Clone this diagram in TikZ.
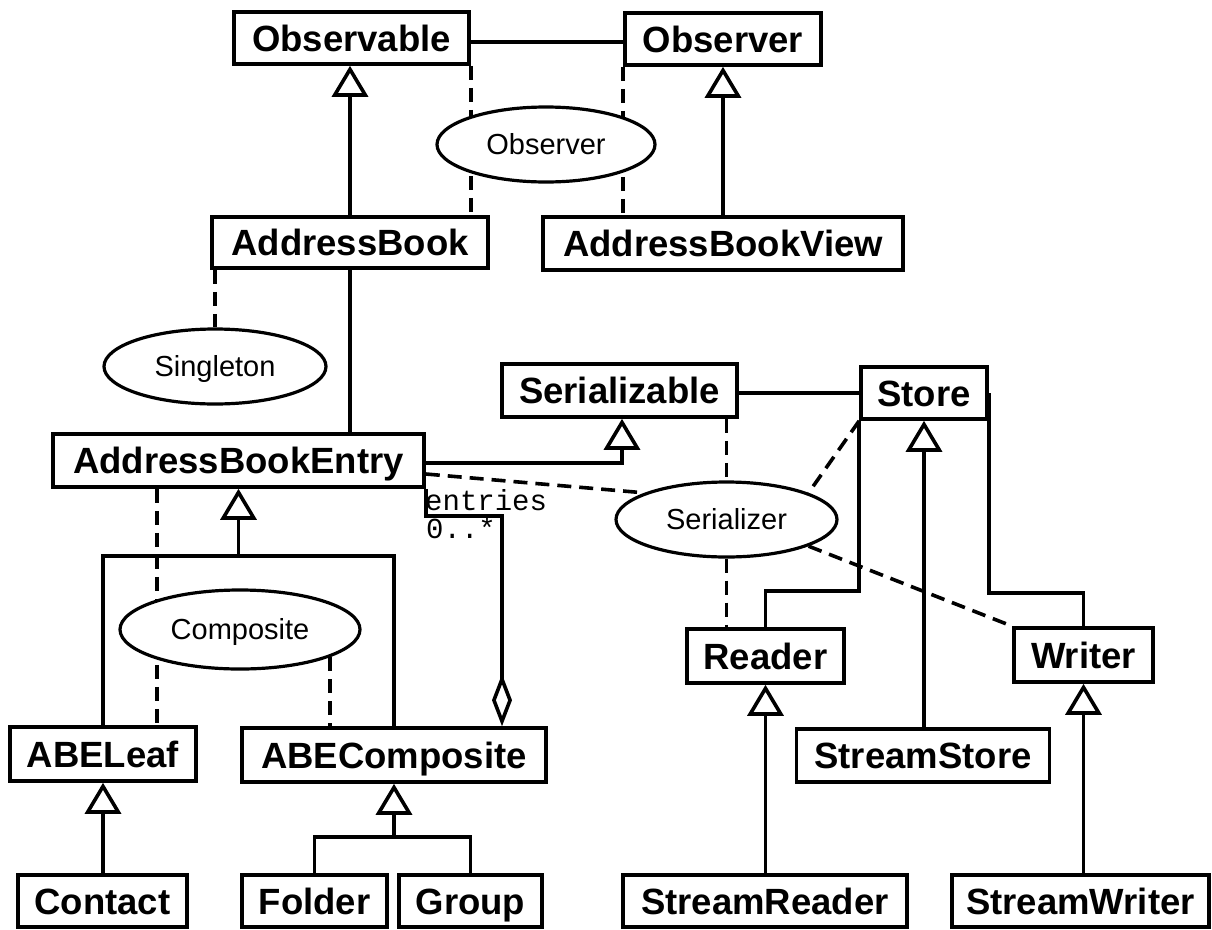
\documentclass[tikz,border=0pt]{standalone}
\usepackage{fontspec}
\setmainfont{Liberation Sans}
\setmonofont{Liberation Mono}
\usetikzlibrary{arrows.meta,shapes.geometric}
\pgfdeclarelayer{paper}
\pgfdeclarelayer{links}
\pgfsetlayers{paper,links,main}

\tikzset{
  cls/.style={draw, line width=3.6pt, fill=white, inner sep=0pt,
    minimum height=52pt, text height=26pt, text depth=0pt,
    font=\fontsize{36.5}{40}\selectfont\bfseries},
  pat/.style={ellipse, draw, line width=3.2pt, fill=white, inner sep=0pt,
    minimum height=75pt, text height=20.5pt, text depth=0pt,
    font=\fontsize{29}{32}\selectfont},
  link/.style={line width=3.6pt},
  dlink/.style={line width=3.6pt, dash pattern=on 14pt off 8pt},
  inherit/.style={link, -{Triangle[open, length=31pt, width=36pt]}},
  aggr/.style={link, -{Diamond[open, length=52pt, width=20pt]}},
  role/.style={font=\fontsize{29}{32}\selectfont\ttfamily, inner sep=0pt, anchor=base west},
}

\begin{document}
\begin{tikzpicture}[x=1pt, y=-1pt]
\begin{pgfonlayer}{paper}
  \fill[white] (0,0) rectangle (1212,929);
\end{pgfonlayer}
\useasboundingbox (0,0) rectangle (1212,929);

% guide coordinates for bends and offsets
\coordinate (y42)  at (0,42);
\coordinate (y463) at (0,463);
\coordinate (y474) at (0,474);
\coordinate (y516) at (0,516);
\coordinate (y556) at (0,556);
\coordinate (y591) at (0,591);
\coordinate (y593) at (0,593);
\coordinate (y837) at (0,837);
\coordinate (x157) at (157,0);
\coordinate (x502) at (502,0);
\coordinate (x622) at (622,0);

% classes
\node[cls, minimum width=235pt] (observable) at (351.5,38) {Observable};
\node[cls, minimum width=196pt] (observer) at (723,39) {Observer};
\node[cls, minimum width=276pt, minimum height=51pt] (addressbook) at (350,242.5) {AddressBook};
\node[cls, minimum width=360pt, minimum height=53pt] (abview) at (723,243.5) {AddressBookView};
\node[cls, minimum width=371pt, minimum height=53pt] (abe) at (238.5,460.5) {AddressBookEntry};
\node[cls, minimum width=235pt, minimum height=53pt] (serializable) at (619.5,390.5) {Serializable};
\node[cls, minimum width=126pt] (store) at (924,393) {Store};
\node[cls, minimum width=186pt, minimum height=54pt] (abeleaf) at (103,754) {ABELeaf};
\node[cls, minimum width=304pt, minimum height=54pt] (abecomp) at (394,755) {ABEComposite};
\node[cls, minimum width=169pt] (contact) at (102.5,901) {Contact};
\node[cls, minimum width=145pt] (folder) at (314.5,901) {Folder};
\node[cls, minimum width=143pt] (group) at (470.5,901) {Group};
\node[cls, minimum width=157pt, minimum height=54pt] (reader) at (765.5,656) {Reader};
\node[cls, minimum width=253pt, minimum height=53pt] (streamstore) at (923,755.5) {StreamStore};
\node[cls, minimum width=139pt, minimum height=54pt] (writer) at (1083.5,655) {Writer};
\node[cls, minimum width=284pt] (streamreader) at (765,901) {StreamReader};
\node[cls, minimum width=257pt] (streamwriter) at (1080.5,901) {StreamWriter};

% design patterns
\node[pat, minimum width=218pt] (obspat) at (546,144.5) {Observer};
\node[pat, minimum width=222pt] (singleton) at (215,366.5) {Singleton};
\node[pat, minimum width=221pt] (serializer) at (726.5,519.5) {Serializer};
\node[pat, minimum width=240pt, minimum height=79pt] (composite) at (240,629.5) {Composite};

% association role labels
\node[role] (entrieslbl) at (425,510) {entries};
\node[role] (multlbl) at (426,538) {0..*};

\begin{pgfonlayer}{links}
  % associations
  \draw[link] (observable.east |- y42) -- (observer.west |- y42);
  \draw[link] (addressbook.south) -- (addressbook.south |- abe.north);
  \draw[link] (serializable.east |- store.west) -- (store.west);
  \draw[link] (store.south west) -- (store.south west |- y591) -| (reader.north);
  \draw[link] (store.east) -- (store.east |- y593) -| (writer.north);
  \draw[aggr] (abe.south east) -- (abe.south east |- y516) -| (abecomp.north -| x502);

  % generalizations
  \draw[inherit] (addressbook.north) -- (addressbook.north |- observable.south);
  \draw[inherit] (observer.south |- abview.north) -- (observer.south);
  \draw[inherit] (abe.east |- y463) -| (serializable.south -| x622);
  \draw[inherit] (store.south |- streamstore.north) -- (store.south);
  \draw[inherit] (reader.south |- streamreader.north) -- (reader.south);
  \draw[inherit] (writer.south |- streamwriter.north) -- (writer.south);
  \draw[inherit] (abeleaf.south |- contact.north) -- (abeleaf.south);
  \coordinate (abejoin) at (abe.south |- y556);
  \draw[inherit] (abejoin) -- (abe.south);
  \draw[link] (abeleaf.north) |- (abejoin) -| (abecomp.north);
  \coordinate (compjoin) at (abecomp.south |- y837);
  \draw[inherit] (compjoin) -- (abecomp.south);
  \draw[link] (folder.north) |- (compjoin) -| (group.north);

  % pattern participation
  \draw[dlink] (observable.south east) -- (observable.south east |- addressbook.north);
  \draw[dlink] (observer.south west) -- (observer.south west |- abview.north);
  \draw[dlink] (singleton.north |- addressbook.south) -- (singleton.north);
  \draw[dlink] (abe.south -| x157) -- (abeleaf.north -| x157);
  \draw[dlink] (composite.-17) -- (composite.-17 |- abecomp.north);
  \draw[dlink] (serializable.south -| serializer.north) -- (serializer.north);
  \draw[dlink] (serializer.south) -- (serializer.south |- reader.north);
  \draw[dlink] (abe.east |- y474) -- (serializer.162);
  \draw[dlink] (store.south west) -- (serializer.18);
  \draw[dlink] (serializer.-18) -- (writer.north west);
\end{pgfonlayer}
\end{tikzpicture}
\end{document}
